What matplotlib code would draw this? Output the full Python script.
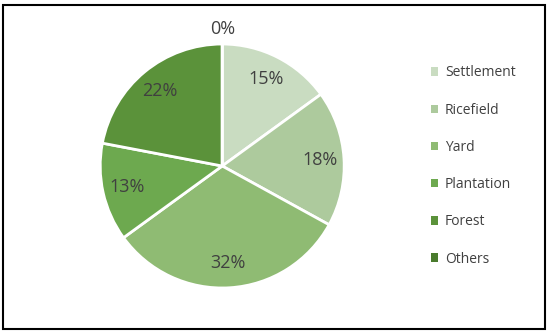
import matplotlib
matplotlib.use("Agg")
import matplotlib.pyplot as plt
from matplotlib.patches import Rectangle, Patch
import numpy as np

categories = ["Settlement", "Ricefield", "Yard", "Plantation", "Forest", "Others"]
shares = [15, 18, 32, 13, 22, 0]
colors = ["#c9dcc1", "#adca9d", "#8fbb73", "#6da94f", "#5b923a", "#4a7b2d"]

plt.rcParams['font.family'] = ['Open Sans', 'DejaVu Sans']
txt = "#404040"

fig = plt.figure(figsize=(5.5, 3.32), dpi=100)
ax = fig.add_axes([0.404 - 0.2218, 0.5 - 0.3675, 0.4436, 0.735])

wedges, _ = ax.pie(shares, colors=colors, startangle=90, counterclock=False,
                   wedgeprops=dict(edgecolor="white", linewidth=2))
ax.set_aspect("equal")
ax.set_xlim(-1, 1)
ax.set_ylim(-1, 1)

# percentage labels
for w, v in zip(wedges, shares):
    mid = np.deg2rad((w.theta1 + w.theta2) / 2)
    r = 0.8 if v > 0 else 1.12
    ax.text(r * np.cos(mid), r * np.sin(mid), f"{v}%", ha="center", va="center",
            fontsize=13, color=txt)

handles = [Patch(facecolor=c, edgecolor="none") for c in colors]
fig.legend(handles, categories, loc="center left", bbox_to_anchor=(0.76, 0.5),
           frameon=False, fontsize=10, labelcolor=txt, handlelength=0.55,
           handleheight=0.55, handletextpad=0.5, labelspacing=1.6)

# outer frame
fig.patches.append(Rectangle((0.006, 0.01), 0.984, 0.975, transform=fig.transFigure,
                             fill=False, edgecolor="black", linewidth=1.5))

fig.savefig("out.png", dpi=100)
